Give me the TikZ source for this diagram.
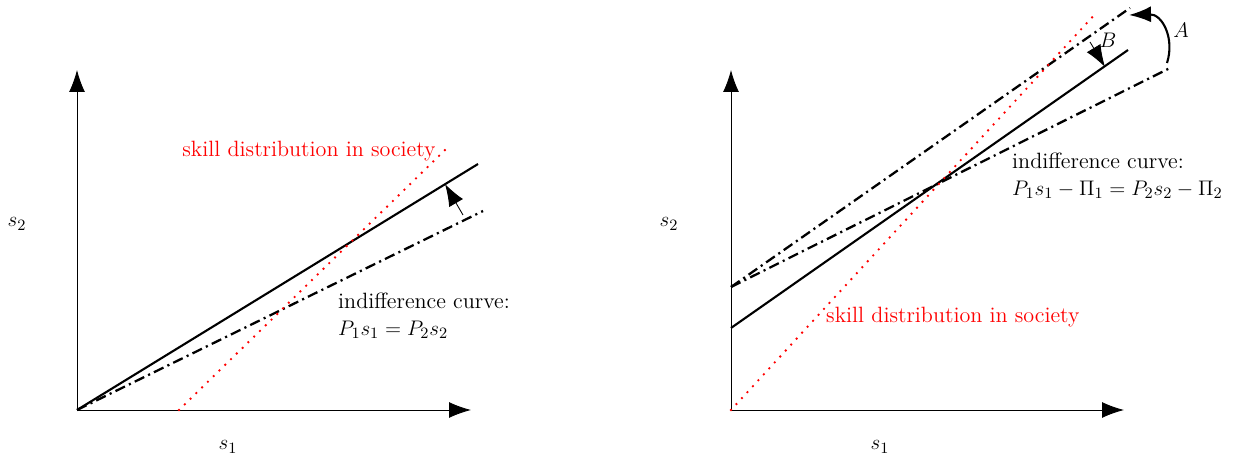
\documentclass[tikz,border=0pt]{standalone}
\usepackage{tikz}
\usetikzlibrary{arrows.meta,positioning,calc}

\begin{document}
\begin{tikzpicture}[x=0.02cm,y=-0.02cm,>={Latex[length=0.44cm,width=0.32cm]},
  axis/.style={line width=0.5pt,->},
  income/.style={line width=1.2pt},
  indiff/.style={line width=1.3pt,dash pattern=on 6pt off 2.5pt on 1.2pt off 2.5pt},
  skill/.style={red,line width=1.5pt,line cap=round,dash pattern=on 0pt off 4.6pt},
  lbl/.style={font=\fontsize{12.6}{15}\selectfont}]
  \useasboundingbox (0,0) rectangle (1241,465);
  % left panel
  \coordinate (oL) at (77,410);
  \draw[axis] (oL) -- (471,410);
  \draw[axis] (oL) -- (77,70);
  \draw[income] (oL) -- (478,164);
  \draw[indiff] (oL) -- (483,211);
  \draw[skill] (179,410) -- (445,150);
  \draw[line width=0.5pt,->] (463,215) -- (445,184);
  \node[lbl] (s2L) at (17,224) {$s_2$};
  \node[lbl] (s1L) at (228,447) {$s_1$};
  \node[lbl,red] (skillL) at (309,151) {skill distribution in society};
  \node[lbl,align=left,anchor=north west] (indL) at (332,287) {indifference curve:\\$P_1s_1=P_2s_2$};
  % right panel
  \coordinate (oR) at (731,410);
  \draw[axis] (oR) -- (1124,410);
  \draw[axis] (oR) -- (731,70);
  \draw[income] (731,328) -- (1128,50);
  \draw[indiff] (731,287) -- (1130,8);
  \draw[indiff] (731,287) -- (1172,67);
  \draw[skill] (oR) -- (1097,12);
  \draw[line width=1.2pt,->] (1167,63) .. controls (1175,38) and (1162,14) .. (1129,15);
  \draw[line width=0.5pt,->] (1090,42) -- (1105,67);
  \node[lbl] (A) at (1181,30) {$A$};
  \node[lbl] (B) at (1108,40) {$B$};
  \node[lbl] (s2R) at (669,224) {$s_2$};
  \node[lbl] (s1R) at (880,447) {$s_1$};
  \node[lbl,red,anchor=west] (skillR) at (820,317) {skill distribution in society};
  \node[lbl,align=left,anchor=north west] (indR) at (1006,147) {indifference curve:\\$P_1s_1-\Pi_1=P_2s_2-\Pi_2$};
\end{tikzpicture}
\end{document}
